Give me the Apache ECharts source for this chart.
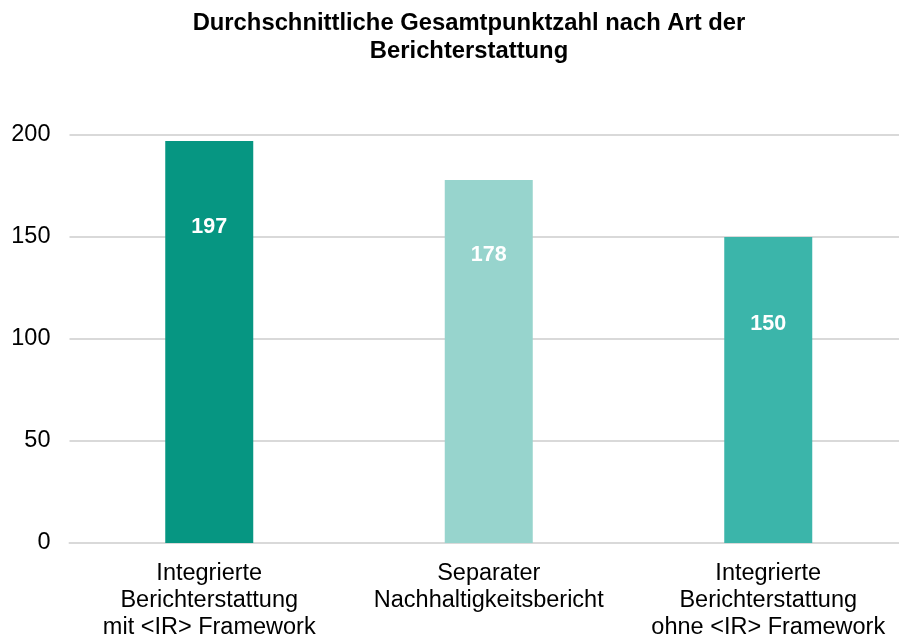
<!DOCTYPE html>
<html lang="de">
<head>
<meta charset="UTF-8">
<title>Durchschnittliche Gesamtpunktzahl</title>
<style>
    html, body { margin: 0; padding: 0; background: #fff; }
    #chart { width: 899px; height: 638px; }
</style>
</head>
<body>
<div id="chart"></div>
<script src="https://cdn.jsdelivr.net/npm/echarts@6/dist/echarts.min.js"></script>
<script>
    var categories = [
        'Integrierte\nBerichterstattung\nmit <IR> Framework',
        'Separater\nNachhaltigkeitsbericht',
        'Integrierte\nBerichterstattung\nohne <IR> Framework'
    ];
    var values = [197, 178, 150];
    var barColors = ['#069682', '#97d4cd', '#3bb5aa'];
    var labelDistance = [75, 64, 76];

    var chart = echarts.init(document.getElementById('chart'));
    chart.setOption({
        textStyle: { fontFamily: 'Liberation Sans, Arial, sans-serif' },
        title: {
            text: 'Durchschnittliche Gesamtpunktzahl nach Art der\nBerichterstattung',
            left: 464,
            textAlign: 'center',
            top: 4,
            textStyle: { fontSize: 23.8, fontWeight: 'bold', color: '#000', lineHeight: 28 }
        },
        // Gitter reicht rechts etwas über den Rand hinaus (wie im Original)
        grid: { left: 69.5, width: 838.5, top: 135, bottom: 95, containLabel: false, outerBoundsMode: 'none' },
        xAxis: {
            type: 'category',
            data: categories,
            axisLine: { lineStyle: { color: '#d9d9d9', width: 2 } },
            axisTick: { show: false },
            axisLabel: { color: '#000', fontSize: 23.5, lineHeight: 27, margin: 17, interval: 0, hideOverlap: false }
        },
        yAxis: {
            type: 'value',
            min: 0,
            max: 200,
            interval: 50,
            axisLine: { show: false },
            axisTick: { show: false },
            splitLine: { lineStyle: { color: '#d9d9d9', width: 2 } },
            axisLabel: { color: '#000', fontSize: 23.5, margin: 19 }
        },
        series: [{
            type: 'bar',
            barWidth: 88,
            data: values.map(function (v, i) {
                return {
                    value: v,
                    itemStyle: { color: barColors[i] },
                    label: { distance: labelDistance[i] }
                };
            }),
            label: {
                show: true,
                position: 'insideTop',
                color: '#fff',
                fontSize: 21.5,
                fontWeight: 'bold'
            }
        }]
    });
</script>
</body>
</html>
